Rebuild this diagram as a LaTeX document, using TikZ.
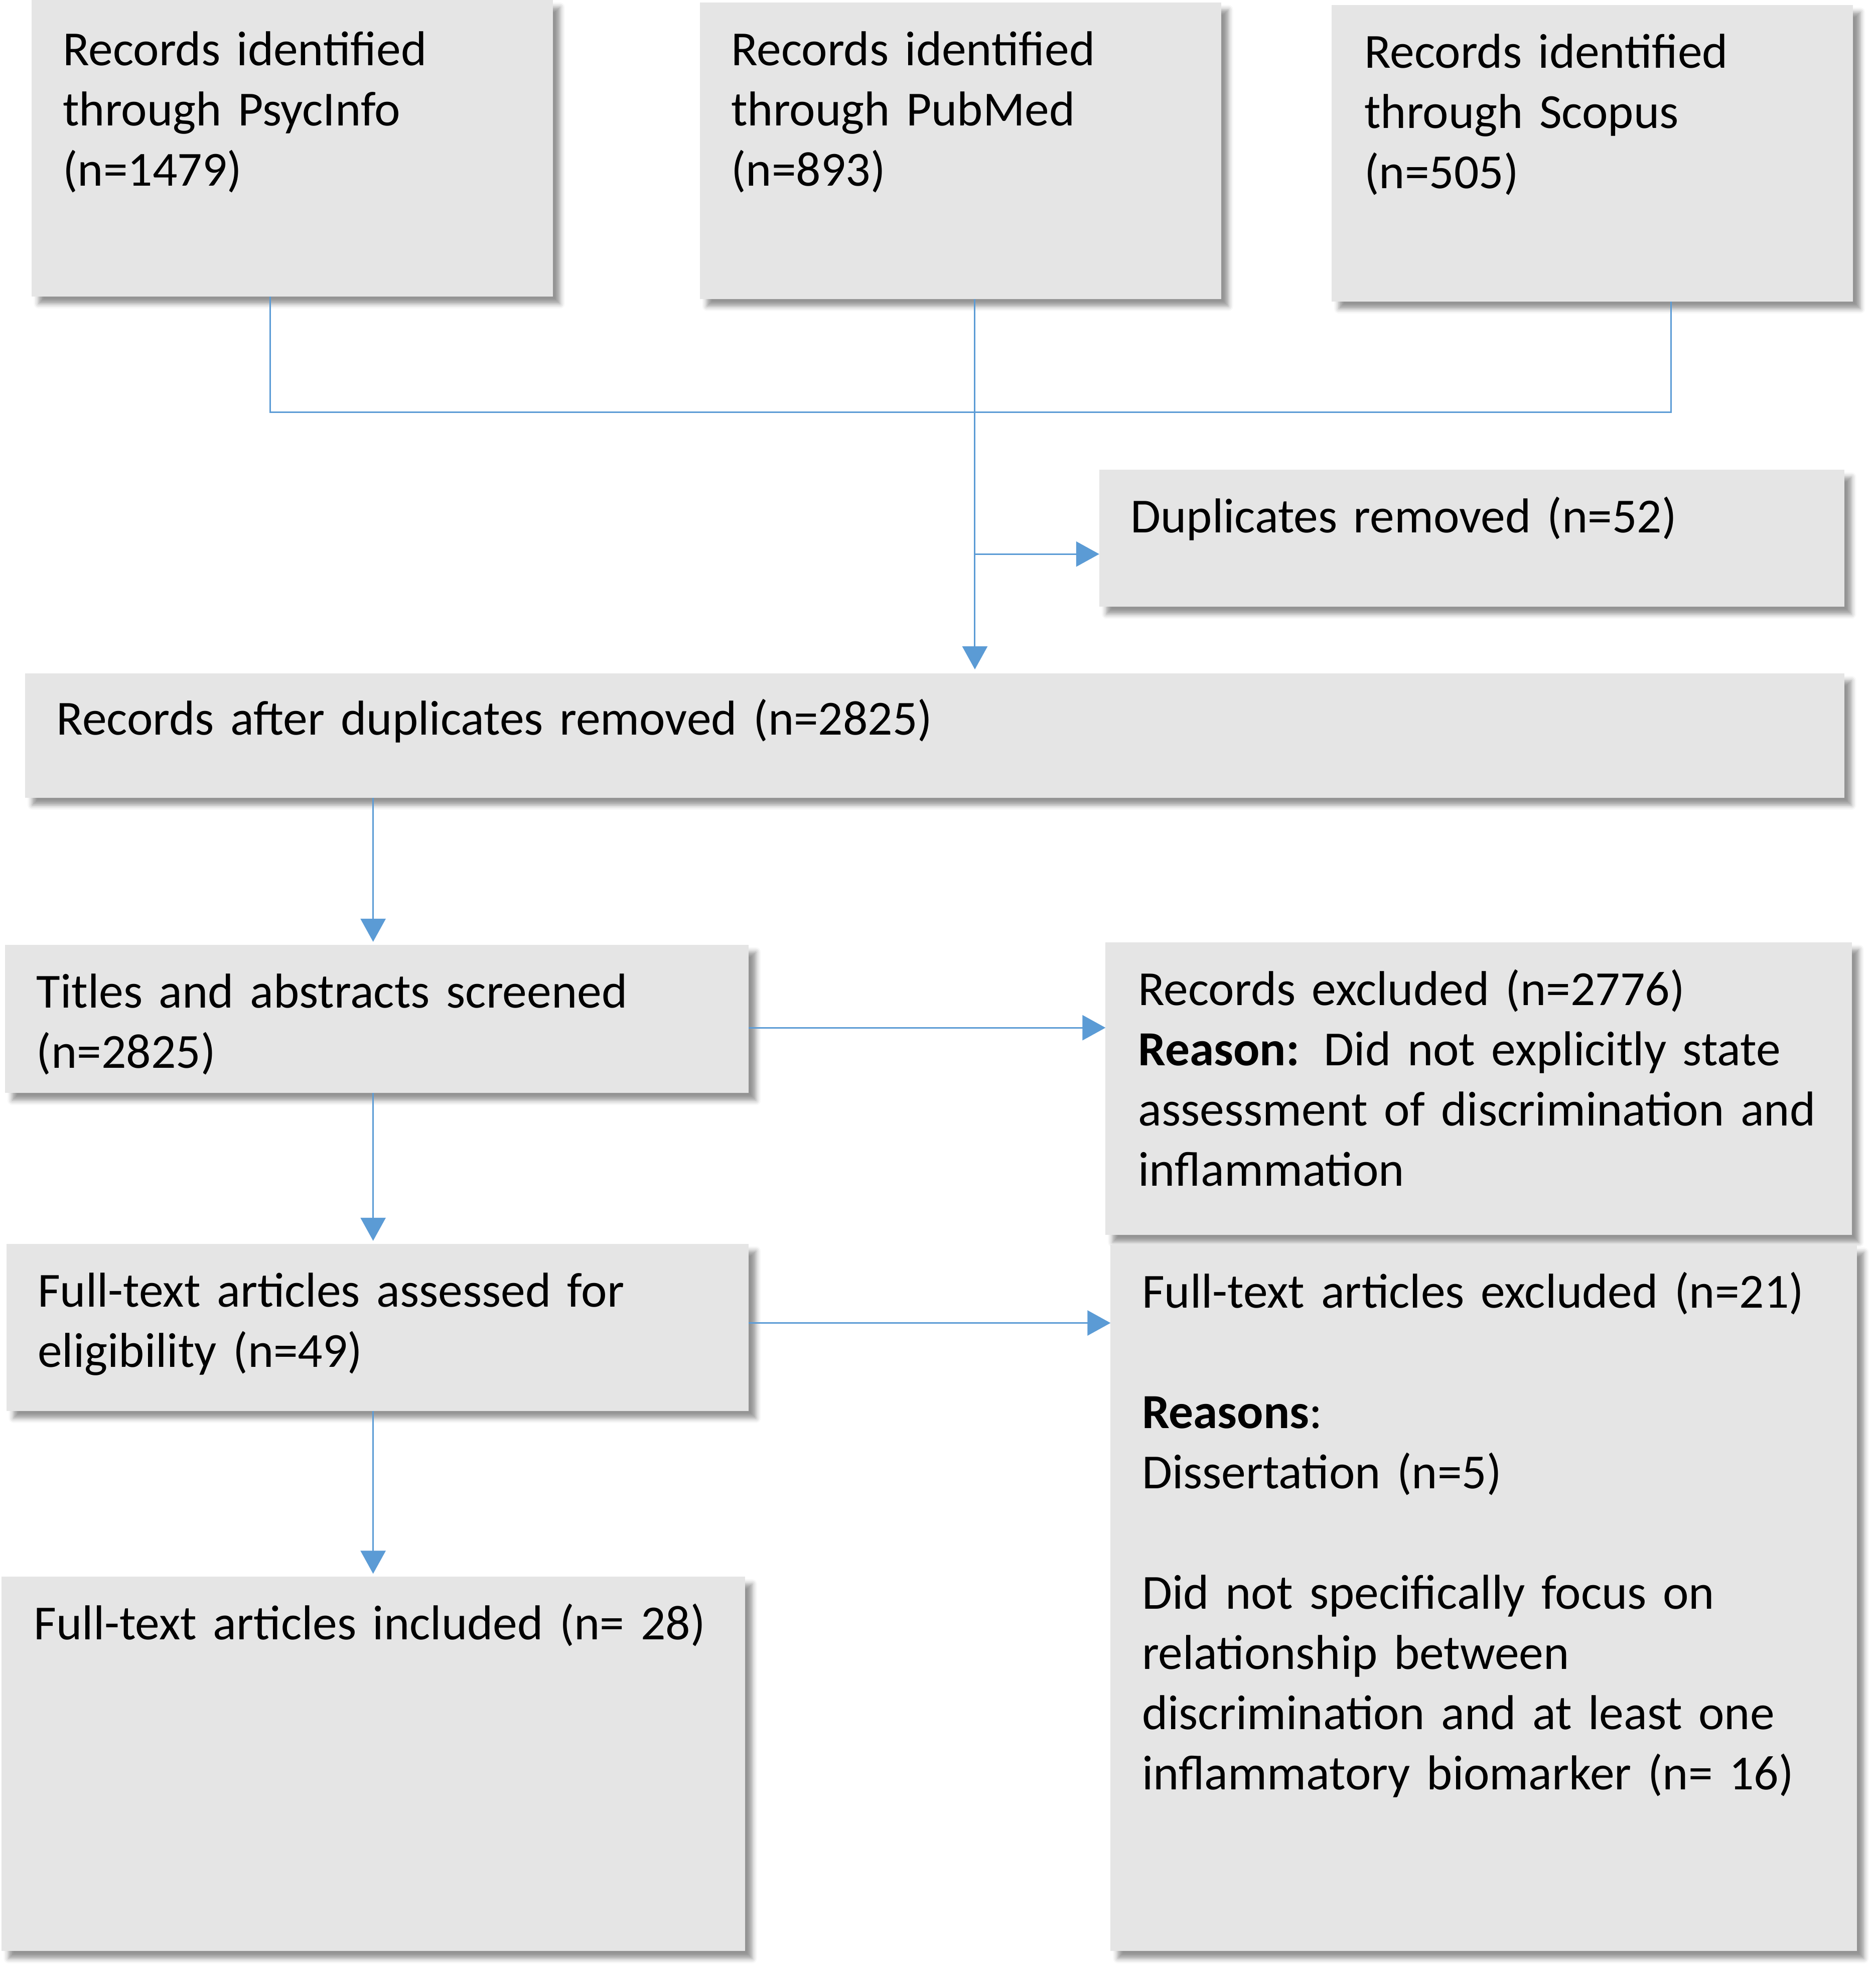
\documentclass[tikz,border=0pt]{standalone}
\usepackage{fontspec}
\setmainfont{Carlito}
\usetikzlibrary{arrows.meta,shadows.blur}
\definecolor{boxgray}{RGB}{229,229,229}
\definecolor{linkblue}{RGB}{91,155,213}
\newcommand{\ulen}{0.6258pt}
\tikzset{
  box/.style={fill=boxgray, draw=none, inner sep=0pt, outer sep=0pt, anchor=north west,
    blur shadow={shadow xshift=3.6pt, shadow yshift=-3.6pt, shadow blur radius=2.4pt, shadow opacity=42}},
  txt/.style={inner sep=0pt, outer sep=0pt, anchor=base west, align=left,
    font=\fontsize{24.4pt}{30pt}\selectfont},
  link/.style={draw=linkblue, line width=0.75pt},
  arr/.style={link, -{Triangle[length=11.5pt,width=12.5pt]}},
}
\begin{document}
\begin{tikzpicture}[x=0.6258pt, y=-0.6258pt]
\useasboundingbox (0,0) rectangle (1493,1568);
% boxes
\node[box, minimum width=415*\ulen, minimum height=236*\ulen] (b1) at (25,0) {};
\node[box, minimum width=415*\ulen, minimum height=236*\ulen] (b2) at (557,2) {};
\node[box, minimum width=415*\ulen, minimum height=236*\ulen] (b3) at (1060,4) {};
\node[box, minimum width=593*\ulen, minimum height=109*\ulen] (dup) at (875,374) {};
\node[box, minimum width=1448*\ulen, minimum height=99*\ulen] (after) at (20,536) {};
\node[box, minimum width=592*\ulen, minimum height=118*\ulen] (titles) at (4,752) {};
\node[box, minimum width=594*\ulen, minimum height=233*\ulen] (excl) at (880,750) {};
\node[box, minimum width=591*\ulen, minimum height=133*\ulen] (fta) at (5,990) {};
\node[box, minimum width=594*\ulen, minimum height=562*\ulen] (fte) at (884,991) {};
\node[box, minimum width=592*\ulen, minimum height=298*\ulen] (inc) at (1,1255) {};
% texts
\node[txt, text width=380*\ulen] (t1) at (50,52) {Records identified\\through PsycInfo\\(n=1479)};
\node[txt, text width=380*\ulen] (t2) at (582,52) {Records identified\\through PubMed\\(n=893)};
\node[txt, text width=380*\ulen] (t3) at (1086,54) {Records identified\\through Scopus\\(n=505)};
\node[txt, text width=560*\ulen] (tdup) at (900,424) {Duplicates removed (n=52)};
\node[txt, text width=1400*\ulen] (tafter) at (45,585) {Records after duplicates removed (n=2825)};
\node[txt, text width=560*\ulen] (ttitles) at (29,802) {Titles and abstracts screened\\(n=2825)};
\node[txt, text width=570*\ulen] (texcl) at (906,800) {Records excluded (n=2776)\\\textbf{Reason:} Did not explicitly state\\assessment of discrimination and\\inflammation};
\node[txt, text width=560*\ulen] (tfta) at (30,1040) {Full-text articles assessed for\\eligibility (n=49)};
\node[txt, text width=570*\ulen] (tfte) at (909,1041) {Full-text articles excluded (n=21)\\[30pt]\textbf{Reasons}:\\Dissertation (n=5)\\[30pt]Did not specifically focus on\\relationship between\\discrimination and at least one\\inflammatory biomarker (n= 16)};
\node[txt, text width=560*\ulen] (tinc) at (27,1305) {Full-text articles included (n= 28)};
% connectors
\coordinate (jL) at (215,328);
\coordinate (jM) at (776,328);
\coordinate (jR) at (1330,328);
\coordinate (jD) at (776,441);
\coordinate (jT) at (596,818);
\coordinate (jF) at (596,1053);
\draw[link] (b1.south -| jL) -- (jL) -- (jR) -- (b3.south -| jR);
\draw[arr, shorten >=2pt] (b2.south -| jM) -- (after.north -| jM);
\draw[arr] (jD) -- (jD -| dup.west);
\draw[arr, shorten >=1.5pt] (after.south -| inc.north) -- (titles.north -| inc.north);
\draw[arr] (jT) -- (jT -| excl.west);
\draw[arr, shorten >=1.5pt] (titles.south -| inc.north) -- (fta.north -| inc.north);
\draw[arr] (jF) -- (jF -| fte.west);
\draw[arr, shorten >=1.5pt] (fta.south -| inc.north) -- (inc.north);
\end{tikzpicture}
\end{document}
